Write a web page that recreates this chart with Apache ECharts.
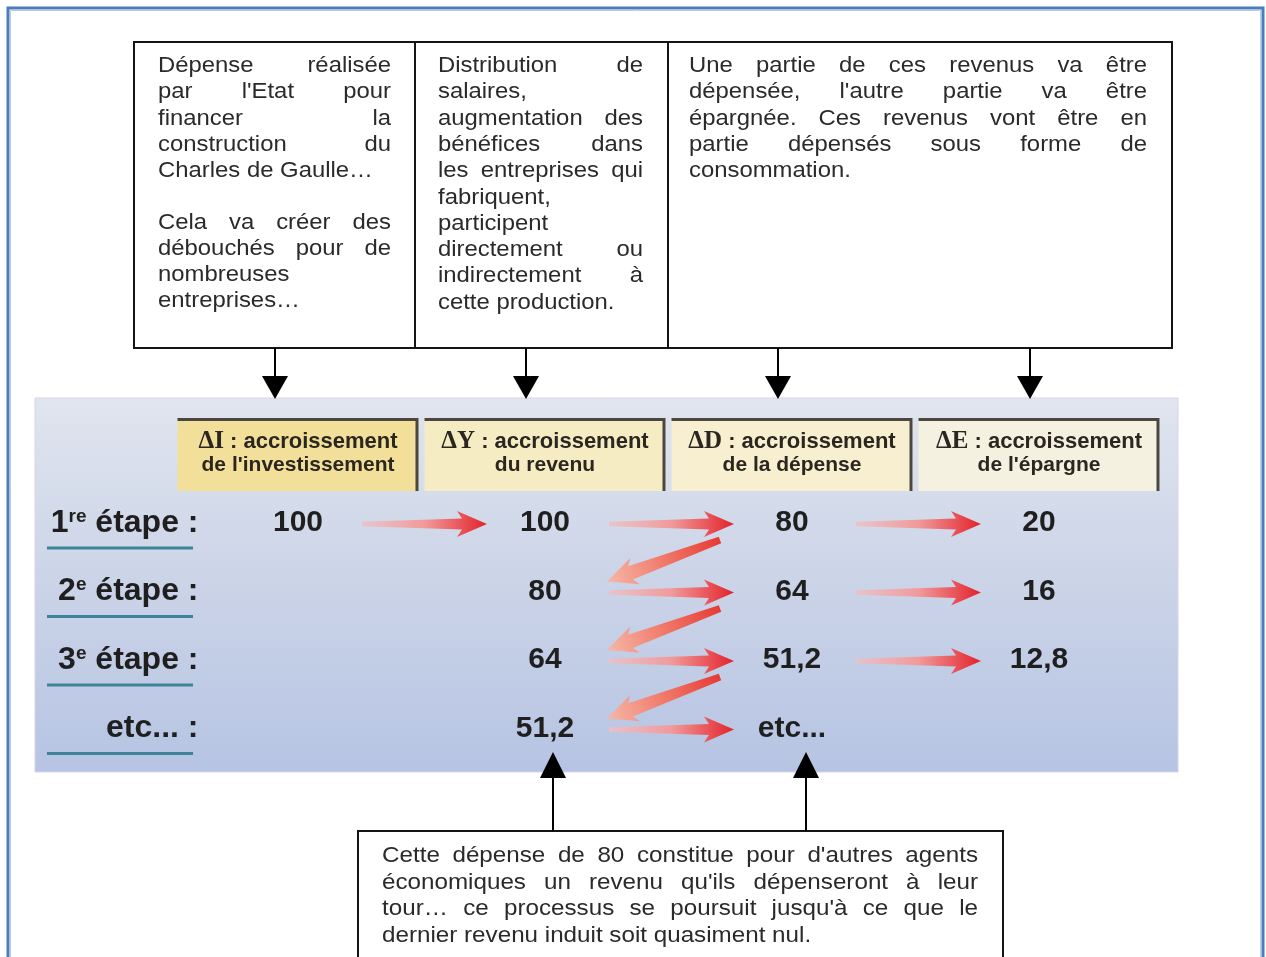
<!DOCTYPE html>
<html><head><meta charset="utf-8">
<script src="https://cdn.jsdelivr.net/npm/echarts@6/dist/echarts.min.js"></script>
<style>html,body{margin:0;padding:0;background:#fff}#c{width:1266px;height:957px}</style>
</head><body><div id="c"></div>
<script>
// ---------- DATA ----------
const categories = ['ΔI', 'ΔY', 'ΔD', 'ΔE'];
const categoryTitles = ['accroissement', 'accroissement', 'accroissement', 'accroissement'];
const categorySubtitles = ["de l'investissement", 'du revenu', 'de la dépense', "de l'épargne"];
const stages = ['1re étape :', '2e étape :', '3e étape :', 'etc... :'];
const deltaI = [100, null, null, null];
const deltaY = [100, 80, 64, 51.2];
const deltaD = [80, 64, 51.2, 'etc...'];
const deltaE = [20, 16, 12.8, null];
// flows: [fromColumn, fromStage, toColumn, toStage]
const flows = [
  [0, 0, 1, 0], [1, 0, 2, 0], [2, 0, 3, 0],
  [1, 1, 2, 1], [2, 1, 3, 1],
  [1, 2, 2, 2], [2, 2, 3, 2],
  [1, 3, 2, 3],
  [2, 0, 1, 1], [2, 1, 1, 2], [2, 2, 1, 3]
];
const box1Lines = ['Dépense réalisée', "par l'Etat pour", 'financer la', 'construction du', 'Charles de Gaulle…', '', 'Cela va créer des', 'débouchés pour de', 'nombreuses', 'entreprises…'];
const box2Lines = ['Distribution de', 'salaires,', 'augmentation des', 'bénéfices dans', 'les entreprises qui', 'fabriquent,', 'participent', 'directement ou', 'indirectement à', 'cette production.'];
const box3Lines = ['Une partie de ces revenus va être', "dépensée, l'autre partie va être", 'épargnée. Ces revenus vont être en', 'partie dépensés sous forme de', 'consommation.'];
const bottomLines = ["Cette dépense de 80 constitue pour d'autres agents", "économiques un revenu qu'ils dépenseront à leur", "tour… ce processus se poursuit jusqu'à ce que le", 'dernier revenu induit soit quasiment nul.'];

// ---------- STYLE ----------
const SANS = '"Liberation Sans", Arial, Helvetica, sans-serif';
const SERIF = '"Liberation Serif", "Times New Roman", serif';
const headerFills = ['#f2df9a', '#f6ecc3', '#f7efcf', '#f5f1e1'];
const textColor = '#2a2a2a';

const columns = [deltaI, deltaY, deltaD, deltaE];
const cells = [];
columns.forEach((col, c) => col.forEach((v, r) => {
  if (v !== null && v !== undefined) cells.push([c, r + 1, v]);
}));
const fmt = v => typeof v === 'number' ? String(v).replace('.', ',') : v;

// justified text blocks (font drawn with a slight horizontal stretch)
const mctx = document.createElement('canvas').getContext('2d');
function textBlock(lines, x, y0, width, step, font, blankStep, sx) {
  mctx.font = font;
  const els = [];
  let y = y0;
  const mk = (t, px) => ({ type: 'text', x: px, y: y, scaleX: sx, z: 10,
    style: { text: t, font: font, fill: textColor, align: 'left', verticalAlign: 'middle' } });
  lines.forEach((ln, i) => {
    if (ln === '') { y += blankStep; return; }
    const words = ln.split(' ');
    const next = lines[i + 1];
    const last = (next === undefined || next === '');
    if (last || words.length < 2) {
      els.push(mk(ln, x));
    } else {
      const ws = words.map(w => mctx.measureText(w).width * sx);
      const sum = ws.reduce((a, b) => a + b, 0);
      const gap = (width - sum) / (words.length - 1);
      let cx = x;
      words.forEach((w, k) => { els.push(mk(w, cx)); cx += ws[k] + gap; });
    }
    y += step;
  });
  return els;
}

const boxFont = '22px ' + SANS;
let graphics = [];
// outer frame
graphics.push({ type: 'rect', z: 0, shape: { x: 8, y: 8, width: 1255, height: 1100 }, style: { fill: null, stroke: '#4a7dbb', lineWidth: 3 } });
graphics.push({ type: 'rect', z: 0, shape: { x: 10.5, y: 10.5, width: 1250, height: 1100 }, style: { fill: null, stroke: '#b9cbe6', lineWidth: 1 } });
// panel
graphics.push({ type: 'rect', z: 0, shape: { x: 35, y: 398, width: 1143, height: 374 },
  style: { fill: new echarts.graphic.LinearGradient(0, 0, 0, 1, [
    { offset: 0, color: '#e0e5ee' }, { offset: 0.45, color: '#cdd5e8' }, { offset: 1, color: '#b6c4e3' }]),
    stroke: '#d9d3ea', lineWidth: 1 } });
// top boxes
graphics.push({ type: 'rect', z: 5, shape: { x: 134, y: 42, width: 1038, height: 306 }, style: { fill: '#fff', stroke: '#151515', lineWidth: 2 } });
[415, 668].forEach(x => graphics.push({ type: 'line', z: 6, shape: { x1: x, y1: 42, x2: x, y2: 348 }, style: { stroke: '#151515', lineWidth: 2 } }));
// down arrows
[275, 526, 778, 1030].forEach(x => {
  graphics.push({ type: 'line', z: 6, shape: { x1: x, y1: 348, x2: x, y2: 378 }, style: { stroke: '#000', lineWidth: 2 } });
  graphics.push({ type: 'polygon', z: 6, shape: { points: [[x - 13, 376], [x + 13, 376], [x, 399]] }, style: { fill: '#000' } });
});
// bottom box
graphics.push({ type: 'rect', z: 5, shape: { x: 358, y: 831, width: 645, height: 200 }, style: { fill: '#fff', stroke: '#151515', lineWidth: 2 } });
[553, 806].forEach(x => {
  graphics.push({ type: 'line', z: 6, shape: { x1: x, y1: 831, x2: x, y2: 775 }, style: { stroke: '#000', lineWidth: 2 } });
  graphics.push({ type: 'polygon', z: 6, shape: { points: [[x - 13, 778], [x + 13, 778], [x, 752]] }, style: { fill: '#000' } });
});
graphics = graphics
  .concat(textBlock(box1Lines, 158, 66, 233, 26.3, boxFont, 25, 1.085))
  .concat(textBlock(box2Lines, 438, 66, 205, 26.3, boxFont, 25, 1.085))
  .concat(textBlock(box3Lines, 689, 66, 458, 26.3, boxFont, 25, 1.085))
  .concat(textBlock(bottomLines, 382, 856, 596, 26.7, boxFont, 26, 1.1));

function arrowPoints(x0, y0, x1, y1, headLen, headHalf, neckHalf, tailHalf) {
  const dx = x1 - x0, dy = y1 - y0, L = Math.hypot(dx, dy);
  const ux = dx / L, uy = dy / L, nx = -uy, ny = ux;
  const local = [[0, -tailHalf], [L - headLen + 5, -neckHalf], [L - headLen, -headHalf], [L, 0],
    [L - headLen, headHalf], [L - headLen + 5, neckHalf], [0, tailHalf]];
  return local.map(p => [x0 + ux * p[0] + nx * p[1], y0 + uy * p[0] + ny * p[1]]);
}

const chart = echarts.init(document.getElementById('c'), null, { renderer: 'canvas' });
chart.setOption({
  animation: false,
  backgroundColor: '#ffffff',
  graphic: { elements: graphics },
  grid: { left: 174.5, top: 420.25, width: 988, height: 342.5, outerBoundsMode: 'none', containLabel: false },
  xAxis: { type: 'category', data: categories, show: false },
  yAxis: {
    type: 'category', data: ['header'].concat(stages), inverse: true,
    axisLine: { show: false }, axisTick: { show: false }, splitLine: { show: false },
    axisLabel: {
      margin: -24, color: '#1f1f1f', fontSize: 32, fontWeight: 'bold', fontFamily: SANS,
      formatter: v => v === 'header' ? '' : v.replace(/^(\d)(re|e) /, '$1{s|$2} '),
      rich: { s: { fontSize: 19, fontWeight: 'bold', fontFamily: SANS, color: '#1f1f1f', verticalAlign: 'top', lineHeight: 19, padding: [0, 0, 13, 0] } }
    }
  },
  series: [
    {
      type: 'custom', name: 'headers', z: 3,
      data: categories.map((c, i) => [i, 0]),
      encode: { x: 0, y: 1 },
      renderItem: function (params, api) {
        const i = params.dataIndex;
        const p = api.coord([api.value(0), api.value(1)]);
        const w = 241, h = 73, x = p[0] - w / 2, y = p[1] - h / 2;
        const sym = categories[i];
        return {
          type: 'group', children: [
            { type: 'rect', shape: { x: x, y: y, width: w, height: h }, style: { fill: headerFills[i] } },
            { type: 'polyline', shape: { points: [[x, y + 1.5], [x + w - 1.5, y + 1.5], [x + w - 1.5, y + h]] }, style: { fill: null, stroke: '#4b4641', lineWidth: 3 } },
            { type: 'text', style: {
                text: '{d|' + sym + '}{b| : ' + categoryTitles[i] + '}',
                x: p[0], y: p[1] - 13, align: 'center', verticalAlign: 'middle',
                rich: {
                  d: { fontFamily: SERIF, fontWeight: 'bold', fontSize: 25, fill: '#2b2620' },
                  b: { fontFamily: SANS, fontWeight: 'bold', fontSize: 22, fill: '#2b2620' }
                } } },
            { type: 'text', style: { text: categorySubtitles[i], x: p[0], y: p[1] + 11, align: 'center', verticalAlign: 'middle',
                font: 'bold 21px ' + SANS, fill: '#2b2620' } }
          ]
        };
      }
    },
    {
      type: 'custom', name: 'underlines', z: 3,
      data: stages.map((s, r) => [0, r + 1]),
      encode: { x: 0, y: 1 },
      renderItem: function (params, api) {
        const p = api.coord([api.value(0), api.value(1)]);
        const y = p[1] + 25;
        return { type: 'line', shape: { x1: 47, y1: y, x2: 193, y2: y }, style: { stroke: '#3d8596', lineWidth: 3 } };
      }
    },
    {
      type: 'custom', name: 'flows', z: 3,
      data: flows.map(f => [f[0], f[1] + 1, f[2], f[3] + 1]),
      encode: { x: [0, 2], y: [1, 3] },
      renderItem: function (params, api) {
        const a = api.coord([api.value(0), api.value(1)]);
        const b = api.coord([api.value(2), api.value(3)]);
        let x0, y0, x1, y1, stops, pts;
        if (api.value(1) === api.value(3)) {
          x0 = a[0] + 64; y0 = a[1] + 1; x1 = b[0] - 58; y1 = b[1] + 1;
          stops = [{ offset: 0, color: 'rgba(240,190,195,0.8)' }, { offset: 0.5, color: '#f09a9a' }, { offset: 1, color: '#e3232b' }];
          pts = arrowPoints(x0, y0, x1, y1, 30, 13, 5.5, 2.2);
        } else {
          x0 = a[0] - 72; y0 = a[1] + 17; x1 = b[0] + 62; y1 = b[1] - 10;
          stops = [{ offset: 0, color: '#e63a35' }, { offset: 0.5, color: '#f07a6a' }, { offset: 1, color: '#f6b8a8' }];
          pts = arrowPoints(x0, y0, x1, y1, 30, 14, 7, 3.5);
        }
        return { type: 'polygon', shape: { points: pts },
          style: { fill: new echarts.graphic.LinearGradient(x0, y0, x1, y1, stops, true) } };
      }
    },
    {
      type: 'custom', name: 'values', z: 4,
      data: cells.map(c => [c[0], c[1]]),
      encode: { x: 0, y: 1 },
      renderItem: function (params, api) {
        const p = api.coord([api.value(0), api.value(1)]);
        return { type: 'text', style: { text: fmt(cells[params.dataIndex][2]), x: p[0], y: p[1],
          align: 'center', verticalAlign: 'middle', font: 'bold 30px ' + SANS, fill: '#1f1f1f' } };
      }
    }
  ]
});
</script></body></html>
